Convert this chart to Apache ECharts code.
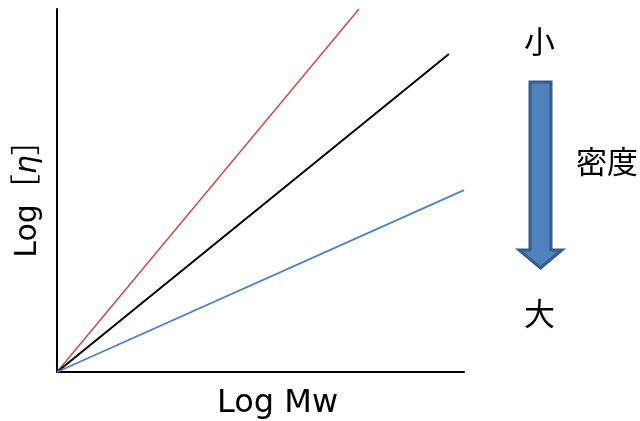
<!DOCTYPE html>
<html><head><meta charset="utf-8">
<script src="https://cdn.jsdelivr.net/npm/echarts@6/dist/echarts.min.js"></script>
<style>html,body{margin:0;padding:0;background:#fff}#c{width:640px;height:421px}</style>
</head><body><div id="c"></div>
<script>
const xAxisName = 'Log Mw';
const yAxisName = 'Log［{i|η}］';
const redLine = [[0, 0], [74.2, 100]];
const blackLine = [[0, 0], [96.3, 87.6]];
const blueLine = [[0, 0], [100, 50.1]];
const labelTop = '小';
const labelMid = '密度';
const labelBottom = '大';

const FONT = '"DejaVu Sans", "Noto Sans CJK JP", sans-serif';
const CJK = '"Noto Sans CJK JP", sans-serif';
const chart = echarts.init(document.getElementById('c'));
chart.setOption({
  animation: false,
  grid: { left: 57, top: 9, width: 407, height: 363, outerBoundsMode: 'none', containLabel: false },
  xAxis: {
    type: 'value', min: 0, max: 100,
    name: xAxisName, nameLocation: 'middle', nameGap: 16,
    nameTextStyle: { fontSize: 32, color: '#000', fontFamily: FONT, padding: [0, 0, 0, 34] },
    axisLine: { show: true, onZero: false, lineStyle: { color: '#000', width: 2 } },
    axisTick: { show: false }, axisLabel: { show: false }, splitLine: { show: false }
  },
  yAxis: {
    type: 'value', min: 0, max: 100,
    name: yAxisName, nameLocation: 'middle', nameGap: 14, nameRotate: 90,
    nameTextStyle: { fontSize: 30, color: '#000', fontFamily: FONT, padding: [0, 2, 0, 0],
      rich: { i: { fontSize: 30, fontStyle: 'italic', fontFamily: FONT, color: '#000' } } },
    axisLine: { show: true, onZero: false, lineStyle: { color: '#000', width: 2 } },
    axisTick: { show: false }, axisLabel: { show: false }, splitLine: { show: false }
  },
  series: [
    { type: 'line', data: redLine, symbol: 'none', lineStyle: { color: '#C0504D', width: 1.5 } },
    { type: 'line', data: blackLine, symbol: 'none', lineStyle: { color: '#000', width: 2 } },
    { type: 'line', data: blueLine, symbol: 'none', lineStyle: { color: '#4F81BD', width: 1.8 } }
  ],
  graphic: [
    { type: 'text', left: 524, top: 26, style: { text: labelTop, fontSize: 31, fill: '#000', fontFamily: CJK } },
    { type: 'text', left: 576, top: 146, style: { text: labelMid, fontSize: 31, fill: '#000', fontFamily: CJK } },
    { type: 'text', left: 524, top: 298, style: { text: labelBottom, fontSize: 31, fill: '#000', fontFamily: CJK } },
    { type: 'polygon', shape: { points: [[530, 82], [551, 82], [551, 250], [562, 250], [540.5, 268], [519, 250], [530, 250]] },
      style: { fill: '#4F81BD', stroke: '#385D8A', lineWidth: 3, lineJoin: 'miter' } }
  ]
});
</script></body></html>
